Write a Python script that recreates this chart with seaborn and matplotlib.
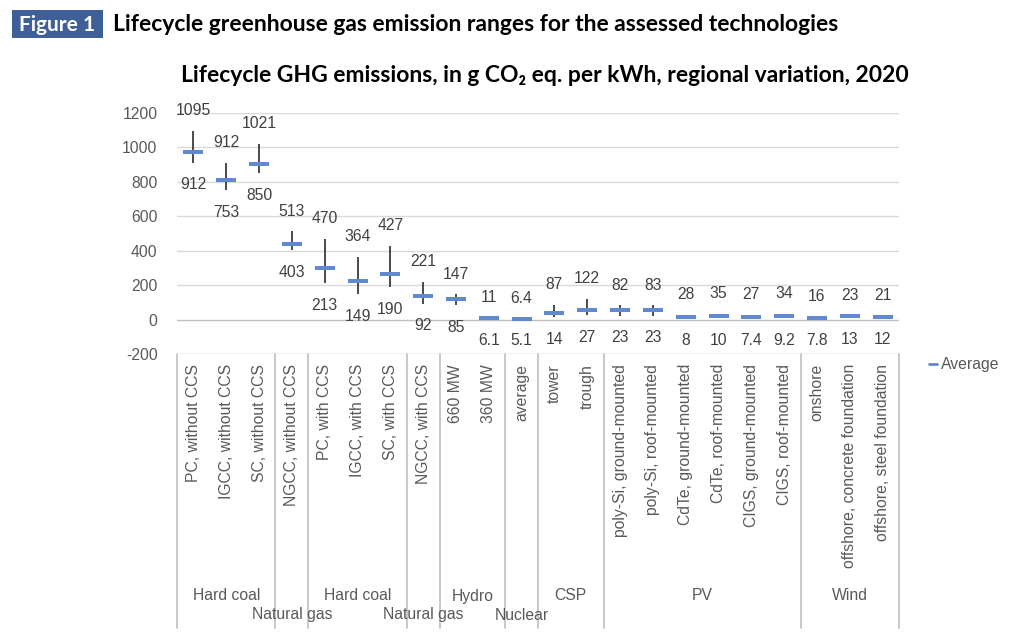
import numpy as np
import pandas as pd
import matplotlib
matplotlib.use("Agg")
import matplotlib.pyplot as plt
import matplotlib.transforms as mtransforms
from matplotlib.patches import Rectangle
from matplotlib.lines import Line2D
import seaborn as sns

# ---------------- data ----------------
categories = [
    "PC, without CCS", "IGCC, without CCS", "SC, without CCS",
    "NGCC, without CCS",
    "PC, with CCS", "IGCC, with CCS", "SC, with CCS",
    "NGCC, with CCS",
    "660 MW", "360 MW",
    "average",
    "tower", "trough",
    "poly-Si, ground-mounted", "poly-Si, roof-mounted",
    "CdTe, ground-mounted", "CdTe, roof-mounted",
    "CIGS, ground-mounted", "CIGS, roof-mounted",
    "onshore", "offshore, concrete foundation", "offshore, steel foundation",
]
mins = [912, 753, 850, 403, 213, 149, 190, 92, 85, 6.1, 5.1, 14, 27,
        23, 23, 8, 10, 7.4, 9.2, 7.8, 13, 12]
maxs = [1095, 912, 1021, 513, 470, 364, 427, 221, 147, 11, 6.4, 87, 122,
        82, 83, 28, 35, 27, 34, 16, 23, 21]
avgs = [975, 808, 905, 440, 300, 222, 266, 136, 122, 8, 5.8, 40, 55,
        55, 55, 17, 20, 17, 20, 12, 18, 17]
groups = ["Hard coal", "Natural gas", "Hard coal", "Natural gas", "Hydro",
          "Nuclear", "CSP", "PV", "Wind"]
group_sizes = [3, 1, 3, 1, 2, 1, 2, 6, 3]
group_row = [0, 1, 0, 1, 0, 1, 0, 0, 0]   # 0 = upper line, 1 = staggered lower line
yticks = [-200, 0, 200, 400, 600, 800, 1000, 1200]

header_tag = "Figure 1"
header = "Lifecycle greenhouse gas emission ranges for the assessed technologies"
subtitle = "Lifecycle GHG emissions, in g CO\u2082 eq. per kWh, regional variation, 2020"

df = pd.DataFrame({"x": np.arange(len(categories)), "cat": categories,
                   "lo": mins, "hi": maxs, "avg": avgs})

# ---------------- style ----------------
sns.set_theme(style="white")
plt.rcParams["font.family"] = ["Liberation Sans", "DejaVu Sans"]
TXT = "#595959"
LBL = "#404040"
BLUE = "#6189CF"

W, H = 1009, 640
fig = plt.figure(figsize=(W / 100, H / 100), dpi=100)
ax_l, ax_r, ax_t, ax_b = 177, 899, 113, 354
ax = fig.add_axes([ax_l / W, 1 - ax_b / H, (ax_r - ax_l) / W, (ax_b - ax_t) / H])

ax.set_xlim(-0.5, len(categories) - 0.5)
ax.set_ylim(-200, 1200)
ax.set_yticks(yticks)
ax.set_yticklabels([str(t) for t in yticks], color=TXT, fontsize=11.3)
ax.tick_params(axis="y", length=0, pad=14)
ax.set_xticks([])
for s in ax.spines.values():
    s.set_visible(False)
for t in yticks:
    ax.axhline(t, color="#BFBFBF" if t in (0, -200) else "#D9D9D9", lw=1, zorder=0)

# range lines
ax.vlines(df["x"], df["lo"], df["hi"], color="#1a1a1a", lw=1.1, zorder=2)
# averages
sns.scatterplot(data=df, x="x", y="avg", marker="_", s=225, linewidths=2.9,
                color=BLUE, edgecolor=BLUE, ax=ax, zorder=3, label="Average",
                legend=False)
ax.set_xlabel("")
ax.set_ylabel("")

# data labels
for xi, lo, hi in zip(df["x"], df["lo"], df["hi"]):
    ax.annotate(f"{hi:g}", (xi, hi), xytext=(0, 14.5), textcoords="offset points",
                ha="center", va="center", fontsize=11.3, color=LBL)
    ax.annotate(f"{lo:g}", (xi, lo), xytext=(0, -16), textcoords="offset points",
                ha="center", va="center", fontsize=11.3, color=LBL)

# category axis (multi-level)
bt = mtransforms.blended_transform_factory(ax.transData, fig.transFigure)
for xi, c in zip(df["x"], categories):
    ax.text(xi, 1 - 364 / H, c, rotation=90, ha="center", va="top",
            fontsize=11.3, color=TXT, transform=bt, clip_on=False)

edges = np.concatenate([[0], np.cumsum(group_sizes)]) - 0.5
for e in edges:
    ax.add_line(Line2D([e, e], [1 - ax_b / H, 1 - 628 / H], transform=bt,
                       color="#BFBFBF", lw=1.2, clip_on=False))
for g, a, b, r in zip(groups, edges[:-1], edges[1:], group_row):
    yy = 596 if r == 0 else 615
    ax.text((a + b) / 2, 1 - yy / H, g, ha="center", va="center",
            fontsize=11.3, color=TXT, transform=bt, clip_on=False)

# legend
fig.add_artist(Line2D([929 / W, 937 / W], [1 - 364 / H] * 2, color=BLUE, lw=2))
fig.text(941 / W, 1 - 364 / H, "Average", ha="left", va="center",
         fontsize=11.3, color=TXT)

# headers
fig.add_artist(Rectangle((12 / W, 1 - 38 / H), 91 / W, 28 / H,
                         transform=fig.transFigure, facecolor="#3F5F99",
                         edgecolor="none"))
fig.text(57.5 / W, 1 - 31 / H, header_tag, ha="center", va="baseline",
         color="white", fontsize=15, fontweight="bold", family=["Lato", "DejaVu Sans"])
fig.text(113 / W, 1 - 31 / H, header, ha="left", va="baseline",
         color="black", fontsize=16.5, fontweight="bold", family=["Lato", "DejaVu Sans"])
fig.text(545 / W, 1 - 82 / H, subtitle, ha="center", va="baseline",
         color="black", fontsize=16.5, fontweight="bold", family=["Lato", "DejaVu Sans"])

fig.savefig("out.png", dpi=100)
